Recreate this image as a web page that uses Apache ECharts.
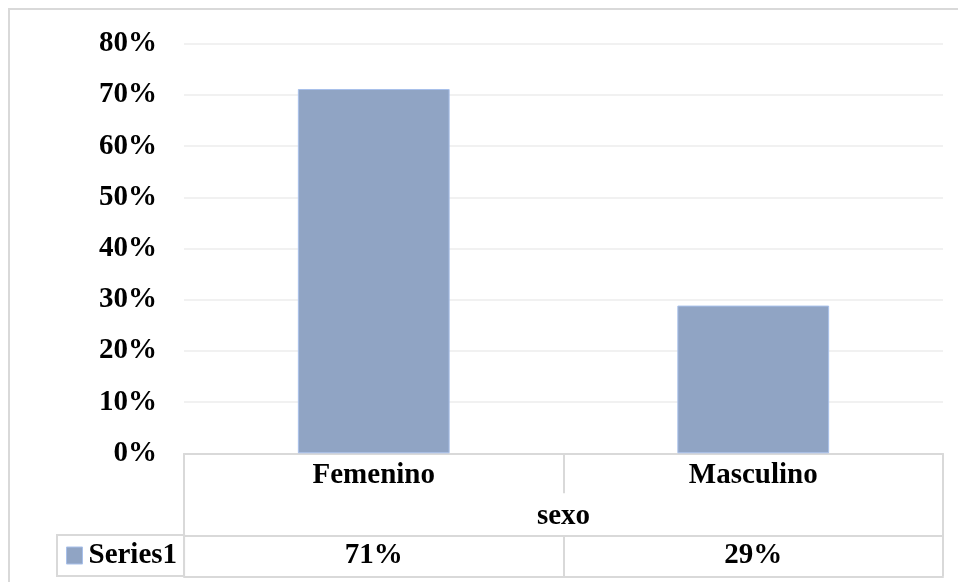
<!DOCTYPE html>
<html>
<head>
<meta charset="utf-8">
<script src="https://cdn.jsdelivr.net/npm/echarts@6/dist/echarts.min.js"></script>
<style>
  html, body { margin: 0; padding: 0; background: #fff; }
  #wrap { position: relative; width: 958px; height: 582px; overflow: hidden; }
  #chart { position: absolute; left: 0; top: 0; width: 958px; height: 582px; }
  #frame { position: absolute; left: 8px; top: 8px; width: 1000px; height: 1000px;
           border: 2px solid #d9d9d9; pointer-events: none; box-sizing: border-box; }
</style>
</head>
<body>
<div id="wrap">
  <div id="chart"></div>
  <div id="frame"></div>
</div>
<script>
// ---- data ----
const categories = ['Femenino', 'Masculino'];
const values = [71.15, 28.85];
const seriesName = 'Series1';
const axisTitle = 'sexo';
const yTicks = { min: 0, max: 80, interval: 10 };

const FONT = "'Liberation Serif', 'Times New Roman', serif";
const GRID_LINE = '#d9d9d9';
const textBase = { fontFamily: FONT, fontWeight: 'bold', fontSize: 29, color: '#000' };

const chart = echarts.init(document.getElementById('chart'), null, { renderer: 'canvas' });

const option = {
  animation: false,
  backgroundColor: 'transparent',
  grid: { left: 184, right: 15, top: 43.7, bottom: 128.7, containLabel: false },
  legend: {
    left: 57, top: 535,
    padding: [6, 7, 6, 9],
    icon: 'rect',
    itemWidth: 16, itemHeight: 17, itemGap: 0,
    itemStyle: { borderColor: '#a8c0ea', borderWidth: 1 },
    borderColor: GRID_LINE, borderWidth: 2,
    textStyle: Object.assign({}, textBase, { lineHeight: 29, padding: [0, 0, 0, 1] }),
    data: [seriesName]
  },
  xAxis: [
    {
      type: 'category', data: categories, position: 'bottom', offset: 0,
      axisLine: { show: true, lineStyle: { color: GRID_LINE, width: 2 } },
      axisTick: { show: true, length: 40, lineStyle: { color: GRID_LINE, width: 2 } },
      axisLabel: Object.assign({}, textBase, { margin: 8 }),
      name: axisTitle, nameLocation: 'middle', nameGap: 49,
      nameTextStyle: textBase,
      splitLine: { show: false }
    },
    {
      type: 'category', data: categories, position: 'bottom', offset: 82,
      axisLine: { show: true, lineStyle: { color: GRID_LINE, width: 2 } },
      axisTick: { show: true, length: 41, lineStyle: { color: GRID_LINE, width: 2 } },
      axisLabel: Object.assign({}, textBase, {
        margin: 6,
        formatter: function (v, i) { return Math.round(values[i]) + '%'; }
      }),
      splitLine: { show: false }
    },
    {
      type: 'category', data: categories, position: 'bottom', offset: 123,
      axisLine: { show: true, lineStyle: { color: GRID_LINE, width: 2 } },
      axisTick: { show: false }, axisLabel: { show: false }, splitLine: { show: false }
    },
    {
      type: 'value', min: 0, max: 1, interval: 1, position: 'bottom', offset: 40,
      axisLine: { show: false },
      axisTick: { show: true, length: 42, lineStyle: { color: GRID_LINE, width: 2 } },
      axisLabel: { show: false }, splitLine: { show: false }
    }
  ],
  yAxis: {
    type: 'value', min: yTicks.min, max: yTicks.max, interval: yTicks.interval,
    axisLine: { show: false }, axisTick: { show: false },
    axisLabel: Object.assign({}, textBase, { margin: 27, formatter: '{value}%' }),
    splitLine: { show: true, lineStyle: { color: '#ececec', width: 1.5 } }
  },
  series: [{
    name: seriesName, type: 'bar', xAxisIndex: 0, yAxisIndex: 0,
    data: values, barWidth: '40%',
    itemStyle: { color: '#90a4c4', borderColor: '#a8c0ea', borderWidth: 1 }
  }]
};
chart.setOption(option);
</script>
</body>
</html>
